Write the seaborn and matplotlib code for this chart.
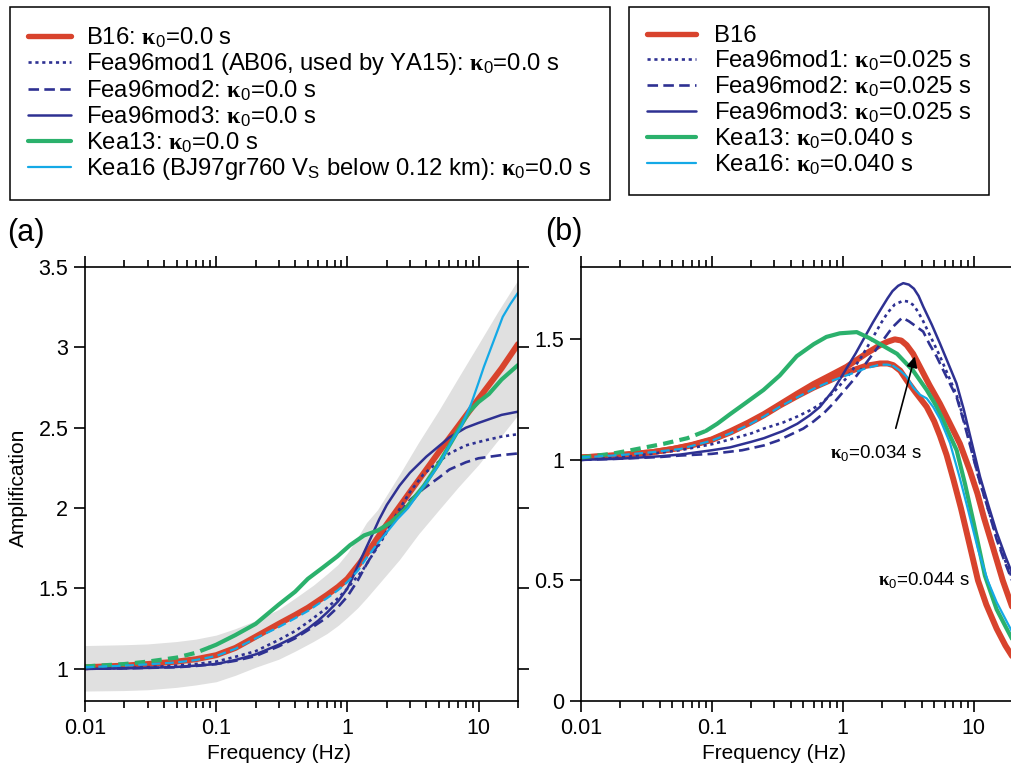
import numpy as np
import pandas as pd
import matplotlib
matplotlib.use("Agg")
import matplotlib.pyplot as plt
import seaborn as sns
from matplotlib.lines import Line2D
from matplotlib.ticker import FixedLocator, FixedFormatter, LogLocator, NullFormatter

sns.set_style("ticks")
plt.rcParams["font.family"] = ["Liberation Sans", "DejaVu Sans"]
plt.rcParams["mathtext.fontset"] = "custom"
plt.rcParams["mathtext.rm"] = "Liberation Sans"
plt.rcParams["mathtext.it"] = "Liberation Sans:italic"
plt.rcParams["mathtext.bf"] = "Liberation Serif:bold"
plt.rcParams.update({"axes.edgecolor": "black", "xtick.color": "black", "ytick.color": "black",
                     "text.color": "black", "axes.labelcolor": "black"})

# ---------------- data: panel (a), kappa0 = 0 ----------------
band_f = [0.01, 0.02, 0.03, 0.05, 0.07, 0.1, 0.14, 0.2, 0.3, 0.4, 0.55, 0.7, 0.85, 1.0, 1.2, 1.4, 1.7,
          2.5, 3.5, 5, 7, 10, 14, 20]
band_hi = [1.145, 1.15, 1.155, 1.17, 1.185, 1.21, 1.25, 1.30, 1.37, 1.44, 1.52, 1.59, 1.65, 1.72, 1.82,
           1.91, 1.99, 2.21, 2.41, 2.61, 2.81, 3.02, 3.22, 3.42]
band_lo = [0.862, 0.865, 0.87, 0.885, 0.90, 0.92, 0.96, 1.01, 1.06, 1.11, 1.17, 1.22, 1.27, 1.32, 1.38,
           1.44, 1.52, 1.68, 1.84, 1.99, 2.13, 2.27, 2.42, 2.58]

fa_b16 = [0.01, 0.02, 0.03, 0.05, 0.07, 0.1, 0.14, 0.2, 0.3, 0.4, 0.5, 0.7, 0.85, 1.0, 1.25, 1.5, 2.0,
          2.5, 3.0, 4.0, 5.0, 7.0, 10, 15, 20]
a_b16 = [1.01, 1.02, 1.03, 1.045, 1.06, 1.085, 1.13, 1.20, 1.28, 1.335, 1.38, 1.46, 1.51, 1.56, 1.66,
         1.75, 1.90, 2.01, 2.10, 2.24, 2.35, 2.51, 2.68, 2.87, 3.02]

fa_mod1 = [0.01, 0.02, 0.03, 0.05, 0.07, 0.1, 0.14, 0.2, 0.3, 0.4, 0.5, 0.7, 0.85, 1.0, 1.15, 1.3, 1.5,
           1.9, 2.4, 3.0, 3.8, 5.0, 6.0, 8.0, 11, 15, 20]
a_mod1 = [1.0, 1.005, 1.01, 1.02, 1.03, 1.045, 1.075, 1.11, 1.18, 1.235, 1.29, 1.38, 1.44, 1.50, 1.56,
          1.61, 1.69, 1.82, 1.97, 2.10, 2.21, 2.29, 2.34, 2.39, 2.42, 2.445, 2.46]

fa_mod2 = [0.01, 0.02, 0.03, 0.05, 0.07, 0.1, 0.14, 0.2, 0.3, 0.4, 0.5, 0.7, 0.85, 1.0, 1.2, 1.4, 1.65,
           1.9, 2.5, 3.0, 3.8, 5.0, 6.0, 8.0, 10, 15, 20]
a_mod2 = [1.0, 1.003, 1.006, 1.01, 1.018, 1.03, 1.05, 1.08, 1.14, 1.19, 1.24, 1.32, 1.385, 1.45, 1.55,
          1.65, 1.75, 1.83, 1.97, 2.05, 2.12, 2.19, 2.24, 2.285, 2.31, 2.33, 2.34]

fa_mod3 = [0.01, 0.02, 0.03, 0.05, 0.07, 0.1, 0.14, 0.2, 0.3, 0.4, 0.5, 0.6, 0.7, 0.85, 1.0, 1.1, 1.2,
           1.35, 1.5, 1.75, 2.0, 2.5, 3.0, 4.0, 6.0, 8.0, 10, 15, 20]
a_mod3 = [1.0, 1.003, 1.006, 1.012, 1.02, 1.03, 1.055, 1.09, 1.15, 1.20, 1.25, 1.30, 1.35, 1.42, 1.50,
          1.57, 1.64, 1.73, 1.81, 1.93, 2.02, 2.14, 2.22, 2.32, 2.44, 2.50, 2.53, 2.58, 2.60]

fa_kea13 = [0.01, 0.02, 0.03, 0.05, 0.07, 0.09, 0.1, 0.14, 0.2, 0.3, 0.4, 0.5, 0.65, 0.84, 1.05, 1.34,
            1.7, 2.14, 2.73, 3.84, 5.0, 6.2, 7.3, 8.5, 10, 12, 15, 20]
a_kea13 = [1.015, 1.03, 1.045, 1.07, 1.10, 1.135, 1.15, 1.21, 1.28, 1.40, 1.48, 1.56, 1.63, 1.70, 1.77,
           1.83, 1.86, 1.91, 1.99, 2.14, 2.28, 2.41, 2.51, 2.60, 2.66, 2.71, 2.80, 2.89]

fa_kea16 = [0.01, 0.02, 0.03, 0.05, 0.07, 0.1, 0.14, 0.2, 0.3, 0.4, 0.5, 0.7, 0.85, 1.0, 1.2, 1.4, 1.7,
            2.0, 2.4, 2.9, 3.4, 4.1, 4.9, 6.2, 7.4, 8.8, 10, 11, 12.5, 15.3, 17.5, 20]
a_kea16 = [1.01, 1.02, 1.028, 1.04, 1.055, 1.08, 1.125, 1.19, 1.26, 1.315, 1.36, 1.44, 1.49, 1.54, 1.61,
           1.69, 1.78, 1.85, 1.93, 2.00, 2.08, 2.17, 2.26, 2.41, 2.51, 2.65, 2.78, 2.88, 3.00, 3.19, 3.27, 3.34]

# ---------------- data: panel (b), with kappa0 ----------------
fb_b16a = [0.01, 0.02, 0.035, 0.05, 0.07, 0.1, 0.14, 0.19, 0.25, 0.33, 0.45, 0.6, 0.8, 1.07, 1.5, 1.93,
           2.2, 2.5, 2.8, 3.08, 3.45, 3.89, 4.6, 5.53, 6.6, 7.86, 9.37, 10.7, 12, 14, 16.7, 20]
b_b16a = [1.01, 1.02, 1.032, 1.045, 1.062, 1.085, 1.12, 1.155, 1.19, 1.23, 1.275, 1.315, 1.35, 1.386,
          1.44, 1.476, 1.49, 1.50, 1.495, 1.476, 1.44, 1.386, 1.31, 1.233, 1.15, 1.067, 0.955, 0.86,
          0.76, 0.64, 0.50, 0.38]

fb_b16b = [0.01, 0.02, 0.035, 0.05, 0.07, 0.1, 0.14, 0.19, 0.25, 0.33, 0.45, 0.6, 0.8, 1.0, 1.2, 1.5,
           1.93, 2.2, 2.43, 2.75, 3.08, 3.6, 4.38, 5.0, 5.53, 6.22, 7.0, 8.0, 9.3, 10.8, 12.5, 15, 17.5, 20]
b_b16b = [1.01, 1.02, 1.032, 1.045, 1.06, 1.083, 1.115, 1.15, 1.185, 1.225, 1.265, 1.30, 1.33, 1.355,
          1.372, 1.39, 1.40, 1.40, 1.393, 1.37, 1.33, 1.28, 1.22, 1.16, 1.10, 1.02, 0.92, 0.80, 0.65,
          0.50, 0.40, 0.30, 0.23, 0.18]

fb_mod1 = [0.01, 0.02, 0.04, 0.057, 0.1, 0.138, 0.2, 0.25, 0.35, 0.45, 0.56, 0.67, 0.85, 1.07, 1.25,
           1.4, 1.71, 1.95, 2.2, 2.5, 2.9, 3.2, 3.5, 3.8, 4.12, 4.8, 5.53, 6.4, 7.4, 8.4, 9.4, 11, 13, 15,
           17.5, 20]
b_mod1 = [1.0, 1.01, 1.03, 1.04, 1.065, 1.085, 1.11, 1.13, 1.155, 1.18, 1.205, 1.23, 1.28, 1.34, 1.39,
          1.43, 1.51, 1.565, 1.61, 1.645, 1.66, 1.656, 1.64, 1.61, 1.575, 1.50, 1.43, 1.35, 1.27, 1.17,
          1.07, 0.92, 0.79, 0.68, 0.58, 0.50]

fb_mod2 = [0.01, 0.02, 0.04, 0.057, 0.1, 0.17, 0.25, 0.32, 0.4, 0.5, 0.6, 0.72, 0.85, 1.0, 1.2, 1.5,
           1.93, 2.4, 2.85, 3.2, 3.5, 4.12, 4.6, 5.2, 6.2, 7.42, 8.4, 9.4, 11, 13, 15, 17.5, 20]
b_mod2 = [1.0, 1.005, 1.012, 1.018, 1.025, 1.04, 1.06, 1.08, 1.105, 1.13, 1.16, 1.195, 1.235, 1.28,
          1.33, 1.40, 1.48, 1.55, 1.59, 1.575, 1.56, 1.532, 1.48, 1.43, 1.345, 1.26, 1.16, 1.06, 0.92,
          0.79, 0.67, 0.57, 0.49]

fb_mod3 = [0.01, 0.02, 0.04, 0.057, 0.1, 0.138, 0.2, 0.25, 0.35, 0.45, 0.56, 0.67, 0.85, 1.07, 1.25,
           1.44, 1.7, 1.93, 2.2, 2.4, 2.65, 2.9, 3.2, 3.5, 3.8, 4.12, 4.8, 5.53, 6.4, 7.4, 8.4, 9.4, 11.2,
           13, 15, 17.5, 20]
b_mod3 = [1.0, 1.005, 1.015, 1.022, 1.04, 1.052, 1.075, 1.09, 1.12, 1.15, 1.185, 1.22, 1.29, 1.38,
          1.44, 1.50, 1.57, 1.62, 1.67, 1.70, 1.722, 1.733, 1.727, 1.71, 1.68, 1.636, 1.56, 1.483, 1.40,
          1.317, 1.21, 1.10, 0.93, 0.81, 0.70, 0.60, 0.52]

fb_kea13 = [0.01, 0.017, 0.024, 0.043, 0.065, 0.09, 0.11, 0.138, 0.18, 0.248, 0.33, 0.445, 0.6, 0.75,
            0.95, 1.28, 1.6, 1.93, 2.6, 3.45, 4.38, 5.1, 5.9, 6.6, 7.42, 8.6, 10, 12.2, 15, 17.5, 20]
b_kea13 = [1.01, 1.025, 1.04, 1.067, 1.09, 1.12, 1.15, 1.19, 1.235, 1.29, 1.35, 1.43, 1.48, 1.51,
           1.525, 1.53, 1.505, 1.48, 1.44, 1.37, 1.29, 1.23, 1.16, 1.10, 1.04, 0.90, 0.74, 0.52, 0.38,
           0.31, 0.25]

fb_kea16 = [0.01, 0.02, 0.035, 0.057, 0.1, 0.138, 0.19, 0.25, 0.33, 0.45, 0.6, 0.8, 1.0, 1.2, 1.5,
            1.93, 2.2, 2.43, 2.75, 3.08, 3.46, 3.9, 4.38, 4.9, 5.53, 6.6, 7.8, 9, 10.8, 12.8, 15, 17.5, 20]
b_kea16 = [1.01, 1.02, 1.032, 1.045, 1.08, 1.11, 1.145, 1.18, 1.22, 1.26, 1.295, 1.325, 1.345, 1.36,
           1.38, 1.395, 1.395, 1.39, 1.37, 1.345, 1.30, 1.27, 1.255, 1.22, 1.17, 1.07, 0.93, 0.80,
           0.63, 0.50, 0.41, 0.34, 0.28]

x_ticks = [0.01, 0.1, 1, 10]
x_ticklabels = ["0.01", "0.1", "1", "10"]
ya_ticks = [1, 1.5, 2, 2.5, 3, 3.5]
ya_ticklabels = ["1", "1.5", "2", "2.5", "3", "3.5"]
yb_ticks = [0, 0.5, 1, 1.5]
yb_ticklabels = ["0", "0.5", "1", "1.5"]

KAP = r"$\mathbf{\kappa}_0$"
leg1_labels = ["B16: " + KAP + "=0.0 s",
               "Fea96mod1 (AB06, used by YA15): " + KAP + "=0.0 s",
               "Fea96mod2: " + KAP + "=0.0 s",
               "Fea96mod3: " + KAP + "=0.0 s",
               "Kea13: " + KAP + "=0.0 s",
               "Kea16 (BJ97gr760 V$_\\mathrm{S}$ below 0.12 km): " + KAP + "=0.0 s"]
leg2_labels = ["B16",
               "Fea96mod1: " + KAP + "=0.025 s",
               "Fea96mod2: " + KAP + "=0.025 s",
               "Fea96mod3: " + KAP + "=0.025 s",
               "Kea13: " + KAP + "=0.040 s",
               "Kea16: " + KAP + "=0.040 s"]

# ---------------- styles ----------------
RED = "#d8432d"
NAVY = "#2e3192"
GREEN = "#2bb16c"
CYAN = "#14a9e6"
DOT = (0, (1.2, 1.4))
DASH = (0, (4.0, 2.0))
styles = {
    "b16": dict(color=RED, lw=4.3, ls="-"),
    "mod1": dict(color=NAVY, lw=1.9, ls=DOT),
    "mod2": dict(color=NAVY, lw=1.9, ls=DASH),
    "mod3": dict(color=NAVY, lw=1.8, ls="-"),
    "kea13": dict(color=GREEN, lw=3.0, ls="-"),
    "kea16": dict(color=CYAN, lw=1.6, ls="-"),
}


def draw(ax, f, a, key, split=None, split_dash=(0, (3.5, 2.0))):
    st = styles[key]
    df = pd.DataFrame({"f": f, "A": a})
    if split is None:
        sns.lineplot(data=df, x="f", y="A", ax=ax, color=st["color"], linewidth=st["lw"],
                     linestyle=st["ls"], estimator=None, legend=False)
    else:
        lo = df[df["f"] <= split]
        hi = df[df["f"] >= split]
        sns.lineplot(data=lo, x="f", y="A", ax=ax, color=st["color"], linewidth=st["lw"],
                     linestyle=split_dash, estimator=None, legend=False)
        sns.lineplot(data=hi, x="f", y="A", ax=ax, color=st["color"], linewidth=st["lw"],
                     linestyle="-", estimator=None, legend=False)


W, H = 1011, 772
fig = plt.figure(figsize=(W / 100, H / 100), dpi=100)
axa = fig.add_axes([85 / W, 1 - 701 / H, 433 / W, 434 / H])
axb = fig.add_axes([581 / W, 1 - 701 / H, 432 / W, 434 / H])

for ax in (axa, axb):
    ax.set_xscale("log")

# panel (a)
axa.fill_between(band_f, band_lo, band_hi, color="#e0e0e0", linewidth=0, zorder=0)
draw(axa, fa_b16, a_b16, "b16")
draw(axa, fa_mod1, a_mod1, "mod1")
draw(axa, fa_mod2, a_mod2, "mod2")
draw(axa, fa_mod3, a_mod3, "mod3")
draw(axa, fa_kea13, a_kea13, "kea13", split=0.09, split_dash=(0, (2.5, 1.5)))
draw(axa, fa_kea16, a_kea16, "kea16", split=1.7, split_dash=(0, (4.0, 2.0)))

# panel (b)
draw(axb, fb_b16a, b_b16a, "b16")
draw(axb, fb_b16b, b_b16b, "b16")
draw(axb, fb_mod1, b_mod1, "mod1")
draw(axb, fb_mod2, b_mod2, "mod2")
draw(axb, fb_mod3, b_mod3, "mod3")
draw(axb, fb_kea13, b_kea13, "kea13", split=0.09, split_dash=(0, (2.5, 1.5)))
draw(axb, fb_kea16, b_kea16, "kea16", split=2.43, split_dash=(0, (4.0, 2.0)))

axb.annotate("", xy=(3.6, 1.44), xytext=(2.51, 1.12),
             arrowprops=dict(arrowstyle="-|>", color="black", lw=1.2, mutation_scale=16))
axb.text(0.80, 1.027, KAP + "=0.034 s", fontsize=13.5, ha="left", va="center")
axb.text(1.86, 0.50, KAP + "=0.044 s", fontsize=13.5, ha="left", va="center")

# axes formatting
for ax in (axa, axb):
    ax.set_xlim(0.01, 20)
    ax.xaxis.set_major_locator(FixedLocator(x_ticks))
    ax.xaxis.set_major_formatter(FixedFormatter(x_ticklabels))
    ax.xaxis.set_minor_locator(LogLocator(base=10, subs=np.arange(2, 10), numticks=30))
    ax.xaxis.set_minor_formatter(NullFormatter())
    ax.tick_params(which="both", direction="out", top=True, width=1.2, labelsize=15.5, pad=4)
    ax.tick_params(which="major", length=8)
    ax.tick_params(which="minor", length=5)
    for sp in ax.spines.values():
        sp.set_linewidth(1.2)
        sp.set_color("black")
    ax.set_ylabel("")
    ax.set_xlabel("Frequency (Hz)", fontsize=15)
    ax.xaxis.set_label_coords(0.447, -0.10)

axa.set_ylim(0.8, 3.5)
axa.yaxis.set_major_locator(FixedLocator(ya_ticks))
axa.yaxis.set_major_formatter(FixedFormatter(ya_ticklabels))
axa.tick_params(axis="y", right=True)

axb.set_ylim(0, 1.8)
axb.yaxis.set_major_locator(FixedLocator(yb_ticks))
axb.yaxis.set_major_formatter(FixedFormatter(yb_ticklabels))
axb.spines["right"].set_visible(False)
axb.tick_params(axis="y", right=False)

fig.text(18 / W, 1 - 488 / H, "Amplification", rotation=90, fontsize=15, ha="center", va="center")
fig.text(7 / W, 1 - 233 / H, "(a)", fontsize=22, ha="left", va="center")
fig.text(545 / W, 1 - 232 / H, "(b)", fontsize=22, ha="left", va="center")

# legends
def handle(key):
    st = styles[key]
    return Line2D([], [], color=st["color"], lw=st["lw"] * (0.9 if key == "b16" else 1.0), ls=st["ls"])

keys = ["b16", "mod1", "mod2", "mod3", "kea13", "kea16"]
h = [handle(k) for k in keys]
leg1 = fig.legend(h, leg1_labels, loc="upper left", bbox_to_anchor=(10 / W, 1 - 7 / H),
                  bbox_transform=fig.transFigure, fontsize=17.2, frameon=True, fancybox=False,
                  edgecolor="black", framealpha=1, handlelength=1.8, handletextpad=0.65,
                  labelspacing=0.05, borderpad=0.75, borderaxespad=0)
leg1.get_frame().set_linewidth(1.1)
leg2 = fig.legend(h, leg2_labels, loc="upper left", bbox_to_anchor=(629 / W, 1 - 7 / H),
                  bbox_transform=fig.transFigure, fontsize=17.2, frameon=True, fancybox=False,
                  edgecolor="black", framealpha=1, handlelength=2.05, handletextpad=0.75,
                  labelspacing=0.05, borderpad=0.75, borderaxespad=0)
leg2.get_frame().set_linewidth(1.1)

fig.savefig("out.png", dpi=100)
